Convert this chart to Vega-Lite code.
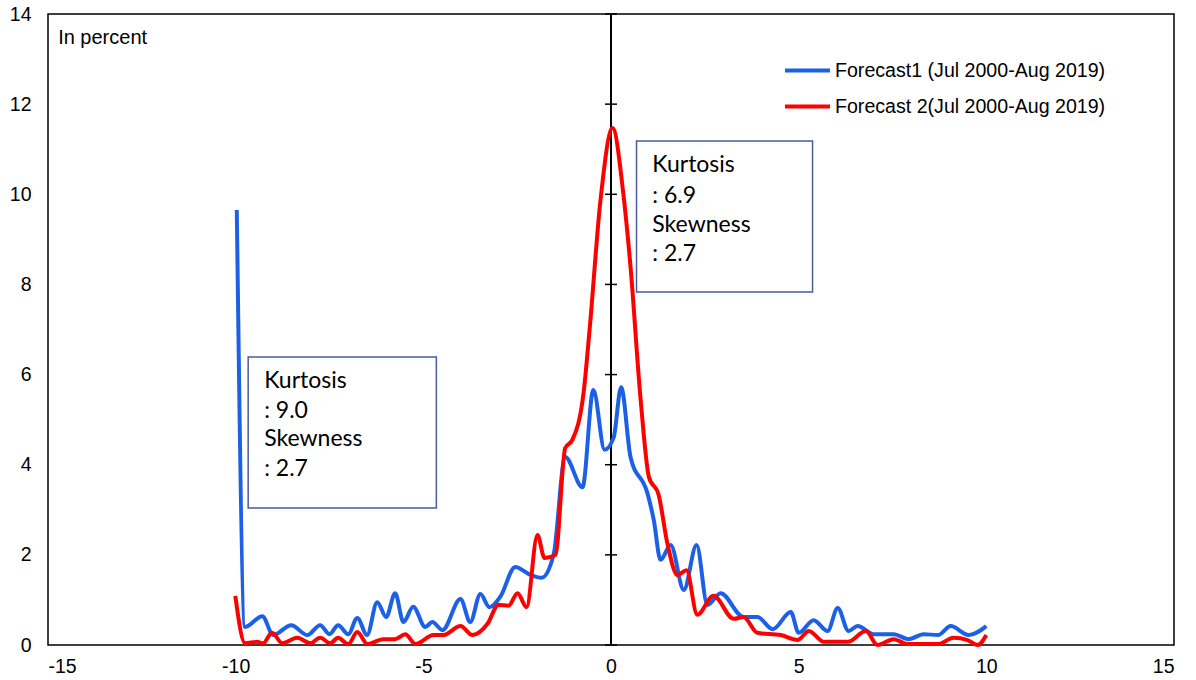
{
  "$schema": "https://vega.github.io/schema/vega-lite/v6.json",
  "width": 1126,
  "height": 631,
  "autosize": {"type": "none"},
  "padding": {"left": 48, "top": 14, "right": 22, "bottom": 35},
  "background": "white",
  "config": {
    "view": {"stroke": "black", "strokeWidth": 1.5},
    "axis": {"labelFont": "Liberation Sans", "labelFontSize": 19.5, "labelColor": "black", "ticks": false, "domain": false, "grid": false, "title": null, "labelExpr": "toString(datum.value)"}
  },
  "datasets": {
    "series": [
      {"x": -9.97, "y": 9.65, "s": "Forecast1 (Jul 2000-Aug 2019)"},
      {"x": -9.75, "y": 0.40, "s": "Forecast1 (Jul 2000-Aug 2019)"},
      {"x": -9.29, "y": 0.64, "s": "Forecast1 (Jul 2000-Aug 2019)"},
      {"x": -9.0, "y": 0.22, "s": "Forecast1 (Jul 2000-Aug 2019)"},
      {"x": -8.52, "y": 0.44, "s": "Forecast1 (Jul 2000-Aug 2019)"},
      {"x": -8.09, "y": 0.22, "s": "Forecast1 (Jul 2000-Aug 2019)"},
      {"x": -7.75, "y": 0.44, "s": "Forecast1 (Jul 2000-Aug 2019)"},
      {"x": -7.5, "y": 0.24, "s": "Forecast1 (Jul 2000-Aug 2019)"},
      {"x": -7.27, "y": 0.44, "s": "Forecast1 (Jul 2000-Aug 2019)"},
      {"x": -7.0, "y": 0.24, "s": "Forecast1 (Jul 2000-Aug 2019)"},
      {"x": -6.76, "y": 0.60, "s": "Forecast1 (Jul 2000-Aug 2019)"},
      {"x": -6.5, "y": 0.22, "s": "Forecast1 (Jul 2000-Aug 2019)"},
      {"x": -6.23, "y": 0.95, "s": "Forecast1 (Jul 2000-Aug 2019)"},
      {"x": -5.99, "y": 0.62, "s": "Forecast1 (Jul 2000-Aug 2019)"},
      {"x": -5.75, "y": 1.15, "s": "Forecast1 (Jul 2000-Aug 2019)"},
      {"x": -5.53, "y": 0.51, "s": "Forecast1 (Jul 2000-Aug 2019)"},
      {"x": -5.27, "y": 0.85, "s": "Forecast1 (Jul 2000-Aug 2019)"},
      {"x": -4.95, "y": 0.40, "s": "Forecast1 (Jul 2000-Aug 2019)"},
      {"x": -4.76, "y": 0.51, "s": "Forecast1 (Jul 2000-Aug 2019)"},
      {"x": -4.49, "y": 0.33, "s": "Forecast1 (Jul 2000-Aug 2019)"},
      {"x": -4.01, "y": 1.02, "s": "Forecast1 (Jul 2000-Aug 2019)"},
      {"x": -3.75, "y": 0.51, "s": "Forecast1 (Jul 2000-Aug 2019)"},
      {"x": -3.48, "y": 1.13, "s": "Forecast1 (Jul 2000-Aug 2019)"},
      {"x": -3.24, "y": 0.84, "s": "Forecast1 (Jul 2000-Aug 2019)"},
      {"x": -2.95, "y": 1.07, "s": "Forecast1 (Jul 2000-Aug 2019)"},
      {"x": -2.55, "y": 1.73, "s": "Forecast1 (Jul 2000-Aug 2019)"},
      {"x": -2.2, "y": 1.58, "s": "Forecast1 (Jul 2000-Aug 2019)"},
      {"x": -1.85, "y": 1.49, "s": "Forecast1 (Jul 2000-Aug 2019)"},
      {"x": -1.53, "y": 2.0, "s": "Forecast1 (Jul 2000-Aug 2019)"},
      {"x": -1.22, "y": 4.17, "s": "Forecast1 (Jul 2000-Aug 2019)"},
      {"x": -0.76, "y": 3.5, "s": "Forecast1 (Jul 2000-Aug 2019)"},
      {"x": -0.47, "y": 5.66, "s": "Forecast1 (Jul 2000-Aug 2019)"},
      {"x": -0.17, "y": 4.33, "s": "Forecast1 (Jul 2000-Aug 2019)"},
      {"x": 0.07, "y": 4.6, "s": "Forecast1 (Jul 2000-Aug 2019)"},
      {"x": 0.27, "y": 5.72, "s": "Forecast1 (Jul 2000-Aug 2019)"},
      {"x": 0.52, "y": 4.17, "s": "Forecast1 (Jul 2000-Aug 2019)"},
      {"x": 0.97, "y": 3.37, "s": "Forecast1 (Jul 2000-Aug 2019)"},
      {"x": 1.14, "y": 2.77, "s": "Forecast1 (Jul 2000-Aug 2019)"},
      {"x": 1.32, "y": 1.89, "s": "Forecast1 (Jul 2000-Aug 2019)"},
      {"x": 1.59, "y": 2.22, "s": "Forecast1 (Jul 2000-Aug 2019)"},
      {"x": 1.94, "y": 1.22, "s": "Forecast1 (Jul 2000-Aug 2019)"},
      {"x": 2.28, "y": 2.22, "s": "Forecast1 (Jul 2000-Aug 2019)"},
      {"x": 2.57, "y": 0.89, "s": "Forecast1 (Jul 2000-Aug 2019)"},
      {"x": 2.92, "y": 1.15, "s": "Forecast1 (Jul 2000-Aug 2019)"},
      {"x": 3.53, "y": 0.62, "s": "Forecast1 (Jul 2000-Aug 2019)"},
      {"x": 3.9, "y": 0.62, "s": "Forecast1 (Jul 2000-Aug 2019)"},
      {"x": 4.31, "y": 0.35, "s": "Forecast1 (Jul 2000-Aug 2019)"},
      {"x": 4.79, "y": 0.73, "s": "Forecast1 (Jul 2000-Aug 2019)"},
      {"x": 5.0, "y": 0.27, "s": "Forecast1 (Jul 2000-Aug 2019)"},
      {"x": 5.4, "y": 0.55, "s": "Forecast1 (Jul 2000-Aug 2019)"},
      {"x": 5.77, "y": 0.31, "s": "Forecast1 (Jul 2000-Aug 2019)"},
      {"x": 6.04, "y": 0.82, "s": "Forecast1 (Jul 2000-Aug 2019)"},
      {"x": 6.33, "y": 0.31, "s": "Forecast1 (Jul 2000-Aug 2019)"},
      {"x": 6.57, "y": 0.42, "s": "Forecast1 (Jul 2000-Aug 2019)"},
      {"x": 7.0, "y": 0.24, "s": "Forecast1 (Jul 2000-Aug 2019)"},
      {"x": 7.53, "y": 0.24, "s": "Forecast1 (Jul 2000-Aug 2019)"},
      {"x": 7.93, "y": 0.13, "s": "Forecast1 (Jul 2000-Aug 2019)"},
      {"x": 8.33, "y": 0.24, "s": "Forecast1 (Jul 2000-Aug 2019)"},
      {"x": 8.71, "y": 0.22, "s": "Forecast1 (Jul 2000-Aug 2019)"},
      {"x": 9.05, "y": 0.42, "s": "Forecast1 (Jul 2000-Aug 2019)"},
      {"x": 9.53, "y": 0.22, "s": "Forecast1 (Jul 2000-Aug 2019)"},
      {"x": 10.0, "y": 0.42, "s": "Forecast1 (Jul 2000-Aug 2019)"},
      {"x": -10.01, "y": 1.09, "s": "Forecast 2(Jul 2000-Aug 2019)"},
      {"x": -9.75, "y": 0.04, "s": "Forecast 2(Jul 2000-Aug 2019)"},
      {"x": -9.43, "y": 0.07, "s": "Forecast 2(Jul 2000-Aug 2019)"},
      {"x": -9.27, "y": 0.04, "s": "Forecast 2(Jul 2000-Aug 2019)"},
      {"x": -9.03, "y": 0.27, "s": "Forecast 2(Jul 2000-Aug 2019)"},
      {"x": -8.76, "y": 0.04, "s": "Forecast 2(Jul 2000-Aug 2019)"},
      {"x": -8.36, "y": 0.16, "s": "Forecast 2(Jul 2000-Aug 2019)"},
      {"x": -8.01, "y": 0.04, "s": "Forecast 2(Jul 2000-Aug 2019)"},
      {"x": -7.75, "y": 0.16, "s": "Forecast 2(Jul 2000-Aug 2019)"},
      {"x": -7.48, "y": 0.04, "s": "Forecast 2(Jul 2000-Aug 2019)"},
      {"x": -7.27, "y": 0.16, "s": "Forecast 2(Jul 2000-Aug 2019)"},
      {"x": -7.0, "y": 0.02, "s": "Forecast 2(Jul 2000-Aug 2019)"},
      {"x": -6.76, "y": 0.29, "s": "Forecast 2(Jul 2000-Aug 2019)"},
      {"x": -6.49, "y": 0.02, "s": "Forecast 2(Jul 2000-Aug 2019)"},
      {"x": -6.07, "y": 0.13, "s": "Forecast 2(Jul 2000-Aug 2019)"},
      {"x": -5.75, "y": 0.13, "s": "Forecast 2(Jul 2000-Aug 2019)"},
      {"x": -5.48, "y": 0.24, "s": "Forecast 2(Jul 2000-Aug 2019)"},
      {"x": -5.21, "y": 0.02, "s": "Forecast 2(Jul 2000-Aug 2019)"},
      {"x": -4.73, "y": 0.22, "s": "Forecast 2(Jul 2000-Aug 2019)"},
      {"x": -4.47, "y": 0.22, "s": "Forecast 2(Jul 2000-Aug 2019)"},
      {"x": -4.01, "y": 0.42, "s": "Forecast 2(Jul 2000-Aug 2019)"},
      {"x": -3.69, "y": 0.22, "s": "Forecast 2(Jul 2000-Aug 2019)"},
      {"x": -3.29, "y": 0.47, "s": "Forecast 2(Jul 2000-Aug 2019)"},
      {"x": -3.0, "y": 0.89, "s": "Forecast 2(Jul 2000-Aug 2019)"},
      {"x": -2.73, "y": 0.87, "s": "Forecast 2(Jul 2000-Aug 2019)"},
      {"x": -2.49, "y": 1.15, "s": "Forecast 2(Jul 2000-Aug 2019)"},
      {"x": -2.25, "y": 0.84, "s": "Forecast 2(Jul 2000-Aug 2019)"},
      {"x": -1.96, "y": 2.44, "s": "Forecast 2(Jul 2000-Aug 2019)"},
      {"x": -1.77, "y": 1.93, "s": "Forecast 2(Jul 2000-Aug 2019)"},
      {"x": -1.48, "y": 2.0, "s": "Forecast 2(Jul 2000-Aug 2019)"},
      {"x": -1.22, "y": 4.37, "s": "Forecast 2(Jul 2000-Aug 2019)"},
      {"x": -1.03, "y": 4.55, "s": "Forecast 2(Jul 2000-Aug 2019)"},
      {"x": -0.73, "y": 5.6, "s": "Forecast 2(Jul 2000-Aug 2019)"},
      {"x": -0.57, "y": 7.0, "s": "Forecast 2(Jul 2000-Aug 2019)"},
      {"x": -0.28, "y": 9.87, "s": "Forecast 2(Jul 2000-Aug 2019)"},
      {"x": 0.04, "y": 11.47, "s": "Forecast 2(Jul 2000-Aug 2019)"},
      {"x": 0.33, "y": 10.0, "s": "Forecast 2(Jul 2000-Aug 2019)"},
      {"x": 0.52, "y": 8.39, "s": "Forecast 2(Jul 2000-Aug 2019)"},
      {"x": 0.79, "y": 5.44, "s": "Forecast 2(Jul 2000-Aug 2019)"},
      {"x": 1.01, "y": 3.73, "s": "Forecast 2(Jul 2000-Aug 2019)"},
      {"x": 1.27, "y": 3.33, "s": "Forecast 2(Jul 2000-Aug 2019)"},
      {"x": 1.5, "y": 2.26, "s": "Forecast 2(Jul 2000-Aug 2019)"},
      {"x": 1.77, "y": 1.55, "s": "Forecast 2(Jul 2000-Aug 2019)"},
      {"x": 2.01, "y": 1.66, "s": "Forecast 2(Jul 2000-Aug 2019)"},
      {"x": 2.3, "y": 0.67, "s": "Forecast 2(Jul 2000-Aug 2019)"},
      {"x": 2.73, "y": 1.09, "s": "Forecast 2(Jul 2000-Aug 2019)"},
      {"x": 3.27, "y": 0.58, "s": "Forecast 2(Jul 2000-Aug 2019)"},
      {"x": 3.53, "y": 0.62, "s": "Forecast 2(Jul 2000-Aug 2019)"},
      {"x": 3.9, "y": 0.27, "s": "Forecast 2(Jul 2000-Aug 2019)"},
      {"x": 4.52, "y": 0.22, "s": "Forecast 2(Jul 2000-Aug 2019)"},
      {"x": 4.97, "y": 0.11, "s": "Forecast 2(Jul 2000-Aug 2019)"},
      {"x": 5.27, "y": 0.31, "s": "Forecast 2(Jul 2000-Aug 2019)"},
      {"x": 5.67, "y": 0.07, "s": "Forecast 2(Jul 2000-Aug 2019)"},
      {"x": 6.31, "y": 0.07, "s": "Forecast 2(Jul 2000-Aug 2019)"},
      {"x": 6.79, "y": 0.31, "s": "Forecast 2(Jul 2000-Aug 2019)"},
      {"x": 7.1, "y": 0.0, "s": "Forecast 2(Jul 2000-Aug 2019)"},
      {"x": 7.53, "y": 0.13, "s": "Forecast 2(Jul 2000-Aug 2019)"},
      {"x": 7.9, "y": 0.02, "s": "Forecast 2(Jul 2000-Aug 2019)"},
      {"x": 8.71, "y": 0.02, "s": "Forecast 2(Jul 2000-Aug 2019)"},
      {"x": 9.13, "y": 0.16, "s": "Forecast 2(Jul 2000-Aug 2019)"},
      {"x": 9.5, "y": 0.11, "s": "Forecast 2(Jul 2000-Aug 2019)"},
      {"x": 9.77, "y": 0.0, "s": "Forecast 2(Jul 2000-Aug 2019)"},
      {"x": 10.0, "y": 0.22, "s": "Forecast 2(Jul 2000-Aug 2019)"}
    ],
    "boxes": [
      {"x": -9.667, "x2": -4.653, "y": 6.39, "y2": 3.04},
      {"x": 0.68, "x2": 5.37, "y": 11.18, "y2": 7.83}
    ],
    "notes": [
      {"x": -9.24, "y": 5.695, "t": "Kurtosis"},
      {"x": -9.24, "y": 5.03, "t": ": 9.0"},
      {"x": -9.24, "y": 4.41, "t": "Skewness"},
      {"x": -9.24, "y": 3.74, "t": ": 2.7"},
      {"x": 1.10, "y": 10.49, "t": "Kurtosis"},
      {"x": 1.10, "y": 9.81, "t": ": 6.9"},
      {"x": 1.10, "y": 9.16, "t": "Skewness"},
      {"x": 1.10, "y": 8.53, "t": ": 2.7"}
    ],
    "unit": [{"x": -14.73, "y": 13.33, "t": "In percent"}],
    "yticks": [{"v": 0}, {"v": 2}, {"v": 4}, {"v": 6}, {"v": 8}, {"v": 10}, {"v": 12}, {"v": 14}]
  },
  "encoding": {
    "x": {"type": "quantitative", "scale": {"domain": [-15, 15], "nice": false}, "axis": {"values": [-15, -10, -5, 0, 5, 10, 15], "labelPadding": 12}},
    "y": {"type": "quantitative", "scale": {"domain": [0, 14], "nice": false}, "axis": {"values": [0, 2, 4, 6, 8, 10, 12, 14], "labelPadding": 17}}
  },
  "layer": [
    {
      "data": {"name": "boxes"},
      "mark": {"type": "rect", "fill": "white", "stroke": "#4a5a9c", "strokeWidth": 1.5},
      "encoding": {
        "x": {"field": "x", "type": "quantitative"},
        "x2": {"field": "x2"},
        "y": {"field": "y", "type": "quantitative"},
        "y2": {"field": "y2"}
      }
    },
    {
      "data": {"name": "yticks"},
      "mark": {"type": "rule", "color": "black", "strokeWidth": 1.5},
      "encoding": {"x": {"datum": 0, "type": "quantitative"}}
    },
    {
      "data": {"name": "yticks"},
      "mark": {"type": "tick", "orient": "horizontal", "color": "black", "size": 12, "thickness": 1.5, "opacity": 1},
      "encoding": {
        "x": {"datum": 0, "type": "quantitative"},
        "y": {"field": "v", "type": "quantitative"}
      }
    },
    {
      "data": {"name": "series"},
      "mark": {"type": "line", "strokeWidth": 4, "interpolate": "monotone"},
      "encoding": {
        "x": {"field": "x", "type": "quantitative"},
        "y": {"field": "y", "type": "quantitative"},
        "color": {
          "field": "s",
          "type": "nominal",
          "scale": {"domain": ["Forecast1 (Jul 2000-Aug 2019)", "Forecast 2(Jul 2000-Aug 2019)"], "range": ["#1b60e6", "#ff0000"]},
          "legend": {
            "title": null,
            "orient": "none",
            "legendX": 735,
            "legendY": 32,
            "symbolType": "stroke",
            "symbolSize": 2025,
            "symbolStrokeWidth": 4,
            "labelFont": "Liberation Sans",
            "labelFontSize": 19.6,
            "labelColor": "black",
            "labelOffset": 3,
            "labelLimit": 0,
            "rowPadding": 1
          }
        }
      }
    },
    {
      "data": {"name": "notes"},
      "mark": {"type": "text", "align": "left", "baseline": "alphabetic", "font": "Lato", "fontSize": 23, "color": "black"},
      "encoding": {
        "x": {"field": "x", "type": "quantitative"},
        "y": {"field": "y", "type": "quantitative"},
        "text": {"field": "t"}
      }
    },
    {
      "data": {"name": "unit"},
      "mark": {"type": "text", "align": "left", "baseline": "alphabetic", "font": "Liberation Sans", "fontSize": 20, "color": "black"},
      "encoding": {
        "x": {"field": "x", "type": "quantitative"},
        "y": {"field": "y", "type": "quantitative"},
        "text": {"field": "t"}
      }
    }
  ]
}
